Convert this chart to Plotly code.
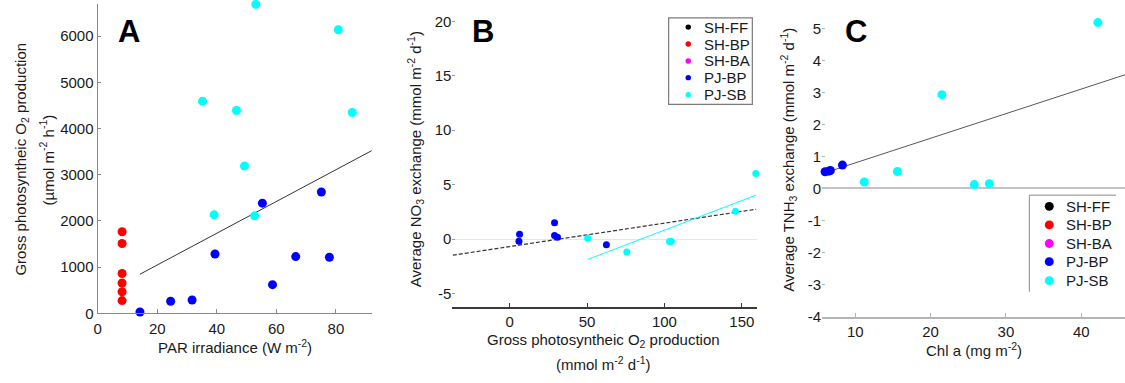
import plotly.graph_objects as go

W, H = 1125, 383
FONT = "Liberation Sans, Arial, sans-serif"

# ---------------- Data ----------------
groups = ["SH-FF", "SH-BP", "SH-BA", "PJ-BP", "PJ-SB"]
colors = {"SH-FF": "#000000", "SH-BP": "#ff0000", "SH-BA": "#ff00ff",
          "PJ-BP": "#0000ff", "PJ-SB": "#00ffff"}

# Panel A: PAR irradiance vs gross O2 production
a_shbp_x = [8.2, 8.2, 8.2, 8.2, 8.2, 8.2]
a_shbp_y = [1765, 1511, 861, 656, 466, 275]
a_pjbp_x = [14.2, 24.5, 31.7, 39.4, 55.3, 58.7, 66.5, 75.1, 77.8, 92.2]
a_pjbp_y = [28, 261, 289, 1285, 2386, 621, 1228, 2626, 1214, 896]
a_pjsb_x = [53.1, 80.8, 35.2, 46.6, 85.5, 49.3, 39.1, 52.7]
a_pjsb_y = [6692, 6141, 4595, 4391, 4348, 3191, 2132, 2111]
a_fit_x = [14.2, 92.2]
a_fit_y = [847, 3529]

# Panel B: gross O2 production vs NO3 exchange
b_pjbp_x = [6.4, 6.0, 29.0, 29.0, 30.9, 62.5]
b_pjbp_y = [0.45, -0.18, 1.50, 0.33, 0.18, -0.51]
b_pjsb_x = [50.4, 75.7, 103.3, 104.5, 145.9, 159.0]
b_pjsb_y = [0.09, -1.17, -0.21, -0.21, 2.56, 6.02]
b_fit_all_x = [-36.7, 159.2]
b_fit_all_y = [-1.47, 2.75]
b_fit_sb_x = [50.4, 159.2]
b_fit_sb_y = [-1.86, 4.04]

# Panel C: Chl a vs TNH3 exchange
c_pjbp_x = [5.5, 5.5, 6.0, 6.5, 6.7, 8.3]
c_pjbp_y = [1.40, 0.99, 0.52, 0.54, 0.56, 0.73]
c_pjsb_x = [11.2, 15.6, 21.5, 25.8, 27.8, 42.2]
c_pjsb_y = [0.20, 0.53, 2.93, 0.12, 0.15, 5.18]
c_fit_x = [5.6, 45.8]
c_fit_y = [0.46, 3.55]

# tick labels
a_xticks = [0, 20, 40, 60, 80]
a_yticks = [0, 1000, 2000, 3000, 4000, 5000, 6000]
b_xticks = [0, 50, 100, 150]
b_yticks = [-5, 0, 5, 10, 15, 20]
c_xticks = [10, 20, 30, 40]
c_yticks = [-4, -3, -2, -1, 0, 1, 2, 3, 4, 5]

# ---------------- Figure ----------------
fig = go.Figure()


def px_x(p):
    return p / W


def px_y(p):
    return 1 - p / H


def add_points(x, y, grp, xa, ya, size):
    fig.add_trace(go.Scatter(
        x=x, y=y, mode="markers", name=grp, xaxis=xa, yaxis=ya, cliponaxis=False,
        marker=dict(color=colors[grp], size=size, line=dict(width=0)),
        showlegend=False))


# Panel A
fig.add_trace(go.Scatter(x=a_fit_x, y=a_fit_y, mode="lines", xaxis="x", yaxis="y",
                         line=dict(color="#333333", width=1), showlegend=False))
add_points(a_shbp_x, a_shbp_y, "SH-BP", "x", "y", 9)
add_points(a_pjbp_x, a_pjbp_y, "PJ-BP", "x", "y", 9)
add_points(a_pjsb_x, a_pjsb_y, "PJ-SB", "x", "y", 9)

# Panel B
fig.add_trace(go.Scatter(x=b_fit_all_x, y=b_fit_all_y, mode="lines", xaxis="x2", yaxis="y2",
                         line=dict(color="#333333", width=1.2, dash="4px,2px"), showlegend=False))
fig.add_trace(go.Scatter(x=b_fit_sb_x, y=b_fit_sb_y, mode="lines", xaxis="x2", yaxis="y2",
                         line=dict(color="#00ffff", width=1), showlegend=False))
add_points(b_pjbp_x, b_pjbp_y, "PJ-BP", "x2", "y2", 7)
add_points(b_pjsb_x, b_pjsb_y, "PJ-SB", "x2", "y2", 7)

# Panel C
fig.add_trace(go.Scatter(x=c_fit_x, y=c_fit_y, mode="lines", xaxis="x3", yaxis="y3",
                         line=dict(color="#444444", width=0.9), showlegend=False))
add_points(c_pjbp_x, c_pjbp_y, "PJ-BP", "x3", "y3", 9)
add_points(c_pjsb_x, c_pjsb_y, "PJ-SB", "x3", "y3", 9)

tickfont = dict(family=FONT, size=15, color="#1a1a1a")

fig.update_layout(
    width=W, height=H, margin=dict(l=0, r=0, t=0, b=0),
    paper_bgcolor="white", plot_bgcolor="white",
    font=dict(family=FONT, size=15, color="#1a1a1a"),
    showlegend=False,
    # Panel A
    xaxis=dict(domain=[px_x(94), px_x(369)], range=[0, 92], tickvals=a_xticks,
               ticktext=[str(v) for v in a_xticks], showgrid=False, zeroline=False,
               showline=True, linecolor="#8a8a8a", linewidth=1.2, ticks="inside",
               ticklen=4, tickcolor="#8a8a8a", tickfont=tickfont, anchor="y",
               ticklabelstandoff=2),
    yaxis=dict(domain=[px_y(320), px_y(4)], range=[0, 6700], tickvals=a_yticks,
               ticktext=[str(v) for v in a_yticks], showgrid=False, zeroline=False,
               showline=True, linecolor="#8a8a8a", linewidth=1.2, ticks="inside",
               ticklen=3, tickcolor="#8a8a8a", tickfont=tickfont, anchor="x"),
    # Panel B
    xaxis2=dict(domain=[px_x(450), px_x(756)], range=[-37, 160], tickvals=b_xticks,
                ticktext=[str(v) for v in b_xticks], showgrid=False, zeroline=False,
                showline=True, linecolor="#3a3a3a", linewidth=1.5, ticks="inside",
                ticklen=4, tickcolor="#3a3a3a", tickfont=tickfont, anchor="y2"),
    yaxis2=dict(domain=[px_y(313.3), px_y(12.8)], range=[-6.2, 20.8], tickvals=b_yticks,
                ticktext=[str(v) for v in b_yticks], showgrid=False, zeroline=True,
                zerolinecolor="#e6e6e6", zerolinewidth=1.2, showline=False,
                ticks="inside", ticklen=3, tickcolor="#9a9a9a", tickfont=tickfont,
                anchor="x2"),
    # Panel C
    xaxis3=dict(domain=[px_x(821), 1], range=[5.6, 45.8], tickvals=c_xticks,
                ticktext=[str(v) for v in c_xticks], showgrid=False, zeroline=False,
                showline=True, linecolor="#b4b4b4", linewidth=1.5, ticks="inside",
                ticklen=4, tickcolor="#b4b4b4", tickfont=tickfont, anchor="y3",
                ticklabelstandoff=1),
    yaxis3=dict(domain=[px_y(323.3), px_y(12.6)], range=[-4, 5.5], tickvals=c_yticks,
                ticktext=[str(v) for v in c_yticks], showgrid=False, zeroline=True,
                zerolinecolor="#c4c4c4", zerolinewidth=1.5, showline=False,
                ticks="inside", ticklen=3, tickcolor="#b4b4b4", tickfont=tickfont,
                anchor="x3"),
)

ann = []
shapes = []
# panel letters
for txt, cx in (("A", 125), ("B", 481), ("C", 855)):
    ann.append(dict(text=f"<b>{txt}</b>", x=px_x(cx), y=px_y(32), xref="paper", yref="paper",
                    xanchor="center", yanchor="middle", showarrow=False,
                    font=dict(family=FONT, size=31, color="#000000")))


def title(text, cx, cy, angle=0, size=15):
    ann.append(dict(text=text, x=px_x(cx), y=px_y(cy), xref="paper", yref="paper",
                    xanchor="center", yanchor="middle", showarrow=False, textangle=angle,
                    font=dict(family=FONT, size=size, color="#1a1a1a")))


title("Gross photosyntheic O<sub>2</sub> production", 18, 162, -90)
title("(µmol m<sup>-2</sup> h<sup>-1</sup>)", 43, 163, -90)
title("PAR irradiance (W m<sup>-2</sup>)", 232, 354)
title("Average NO<sub>3</sub> exchange (mmol m<sup>-2</sup> d<sup>-1</sup>)", 413, 163, -90)
title("Gross photosyntheic O<sub>2</sub> production", 602, 348)
title("(mmol m<sup>-2</sup> d<sup>-1</sup>)", 602, 371)
title("Average TNH<sub>3</sub> exchange (mmol m<sup>-2</sup> d<sup>-1</sup>)", 787, 163, -90)
title("Chl a (mg m<sup>-2</sup>)", 973, 357)


# ---- legends (drawn as boxes with marker + label per group) ----
def legend(box, rows_y, mx, tx, d, fontsize, full_box):
    x0, y0, x1, y1 = box
    if full_box:
        shapes.append(dict(type="rect", xref="paper", yref="paper",
                           x0=px_x(x0), x1=px_x(x1), y0=px_y(y1), y1=px_y(y0),
                           line=dict(color="#7a7a7a", width=1.2), fillcolor="white",
                           layer="above"))
    else:
        shapes.append(dict(type="rect", xref="paper", yref="paper",
                           x0=px_x(x0), x1=px_x(x1), y0=px_y(y1), y1=px_y(y0),
                           line=dict(width=0), fillcolor="white", layer="above"))
        shapes.append(dict(type="line", xref="paper", yref="paper",
                           x0=px_x(x0), x1=px_x(x1), y0=px_y(y0), y1=px_y(y0),
                           line=dict(color="#8a8a8a", width=1), layer="above"))
        shapes.append(dict(type="line", xref="paper", yref="paper",
                           x0=px_x(x0), x1=px_x(x0), y0=px_y(y0), y1=px_y(y1),
                           line=dict(color="#8a8a8a", width=1), layer="above"))
    for g, ry in zip(groups, rows_y):
        shapes.append(dict(type="circle", xref="paper", yref="paper",
                           x0=px_x(mx - d / 2), x1=px_x(mx + d / 2),
                           y0=px_y(ry + d / 2), y1=px_y(ry - d / 2),
                           fillcolor=colors[g], line=dict(width=0), layer="above"))
        ann.append(dict(text=g, x=px_x(tx), y=px_y(ry), xref="paper", yref="paper",
                        xanchor="left", yanchor="middle", showarrow=False,
                        font=dict(family=FONT, size=fontsize, color="#1a1a1a")))


legend((667, 18.3, 751, 106.7), [27.7, 45, 62.3, 79.3, 96.7], 686.7, 700.5, 5.5, 15, True)
legend((1029, 199.3, 1116, 298), [210.7, 229.7, 248.7, 267.3, 286.7], 1049, 1063.5, 9, 15, False)

fig.update_layout(annotations=ann, shapes=shapes)
fig.write_html("out.html")
